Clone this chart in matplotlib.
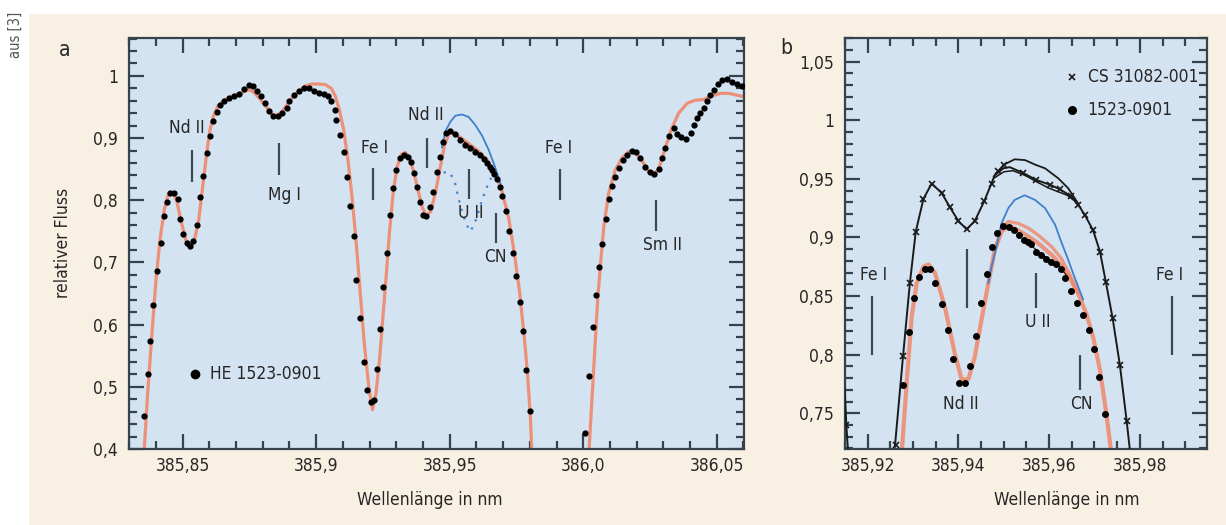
import numpy as np
import matplotlib
matplotlib.use("Agg")
import matplotlib.pyplot as plt
from matplotlib.ticker import MultipleLocator, FixedLocator, FixedFormatter
from matplotlib.patches import Rectangle

plt.rcParams['font.family'] = ['DejaVu Sans']
plt.rcParams['font.stretch'] = 'condensed'

# ---------- Panel a: HE 1523-0901 ----------
a_dots_x = [385.8354, 385.8369, 385.8379, 385.8390, 385.8404, 385.8417, 385.8429, 385.8442, 385.8452,
            385.8466, 385.8482, 385.8491, 385.8500, 385.8515, 385.8528, 385.8540, 385.8552, 385.8565,
            385.8577, 385.8591, 385.8602, 385.8615, 385.8627, 385.8640, 385.8656, 385.8675, 385.8693,
            385.8712, 385.8731, 385.8747, 385.8762, 385.8777, 385.8793, 385.8809, 385.8824, 385.8839,
            385.8856, 385.8872, 385.8889, 385.8897, 385.8916, 385.8934, 385.8953, 385.8972, 385.8990,
            385.9009, 385.9028, 385.9044, 385.9057, 385.9069, 385.9075, 385.9090, 385.9103, 385.9115,
            385.9128, 385.9140, 385.9150, 385.9165, 385.9178, 385.9190, 385.9206, 385.9215, 385.9228,
            385.9240, 385.9250, 385.9264, 385.9278, 385.9288, 385.9300, 385.9315, 385.9330, 385.9344,
            385.9356, 385.9366, 385.9378, 385.9388, 385.9399, 385.9411, 385.9425, 385.9437, 385.9452,
            385.9462, 385.9475, 385.9487, 385.9502, 385.9521, 385.9540, 385.9558, 385.9577, 385.9596,
            385.9615, 385.9627, 385.9640, 385.9650, 385.9658, 385.9667, 385.9677, 385.9687, 385.9696,
            385.9711, 385.9721, 385.9737, 385.9750, 385.9762, 385.9774, 385.9787, 385.9800,
            386.0008, 386.0023, 386.0036, 386.0048, 386.0060, 386.0070, 386.0085, 386.0098, 386.0108,
            386.0120, 386.0133, 386.0148, 386.0164, 386.0183, 386.0199, 386.0214, 386.0230, 386.0249,
            386.0266, 386.0283, 386.0295, 386.0307, 386.0322, 386.0339, 386.0351, 386.0367, 386.0385,
            386.0405, 386.0414, 386.0426, 386.0439, 386.0451, 386.0464, 386.0476, 386.0489, 386.0505,
            386.0520, 386.0538, 386.0557, 386.0576, 386.0595]
a_dots_y = [0.453, 0.521, 0.574, 0.632, 0.687, 0.732, 0.775, 0.798, 0.812,
            0.812, 0.802, 0.770, 0.746, 0.732, 0.726, 0.734, 0.760, 0.805,
            0.839, 0.876, 0.904, 0.927, 0.942, 0.953, 0.959, 0.964, 0.968,
            0.971, 0.979, 0.985, 0.983, 0.976, 0.968, 0.956, 0.944, 0.936,
            0.936, 0.941, 0.948, 0.959, 0.969, 0.975, 0.980, 0.980, 0.976,
            0.973, 0.971, 0.968, 0.960, 0.946, 0.929, 0.905, 0.877, 0.837,
            0.791, 0.743, 0.672, 0.610, 0.540, 0.495, 0.476, 0.479, 0.528,
            0.593, 0.660, 0.716, 0.776, 0.819, 0.849, 0.868, 0.873, 0.869,
            0.862, 0.844, 0.822, 0.798, 0.777, 0.775, 0.790, 0.814, 0.846,
            0.870, 0.894, 0.908, 0.912, 0.907, 0.897, 0.889, 0.884, 0.878,
            0.873, 0.866, 0.860, 0.854, 0.849, 0.842, 0.834, 0.822, 0.807,
            0.782, 0.750, 0.716, 0.678, 0.637, 0.589, 0.527, 0.461,
            0.426, 0.517, 0.597, 0.648, 0.693, 0.730, 0.770, 0.802, 0.823,
            0.838, 0.852, 0.864, 0.873, 0.880, 0.877, 0.868, 0.854, 0.845,
            0.842, 0.850, 0.868, 0.884, 0.904, 0.916, 0.907, 0.901, 0.898,
            0.908, 0.921, 0.932, 0.940, 0.948, 0.959, 0.969, 0.978, 0.987,
            0.993, 0.995, 0.991, 0.987, 0.984]

a_model_x = [385.8356, 385.8369, 385.8385, 385.8400, 385.8415, 385.8431, 385.8447, 385.8462, 385.8477,
             385.8493, 385.8512, 385.8527, 385.8543, 385.8560, 385.8575, 385.8590, 385.8602, 385.8615,
             385.8631, 385.8656, 385.8687, 385.8718, 385.8743, 385.8764, 385.8787, 385.8812, 385.8834,
             385.8849, 385.8868, 385.8887, 385.8909, 385.8934, 385.8959, 385.8984, 385.9009, 385.9034,
             385.9057, 385.9072, 385.9087, 385.9103, 385.9119, 385.9134, 385.9149, 385.9165, 385.9180,
             385.9197, 385.9211, 385.9224, 385.9237, 385.9249, 385.9262, 385.9274, 385.9288, 385.9303,
             385.9319, 385.9334, 385.9349, 385.9365, 385.9381, 385.9396, 385.9411, 385.9429, 385.9446,
             385.9465, 385.9481, 385.9502, 385.9527, 385.9565, 385.9602, 385.9640, 385.9671, 385.9696,
             385.9721, 385.9742, 385.9762, 385.9779, 385.9792, 385.9802, 385.9807,
             386.0022, 386.0030, 386.0038, 386.0046, 386.0054, 386.0064, 386.0077, 386.0095, 386.0120,
             386.0145, 386.0170, 386.0193, 386.0214, 386.0245, 386.0264, 386.0283, 386.0307, 386.0332,
             386.0357, 386.0389, 386.0420, 386.0451, 386.0482, 386.0514, 386.0545, 386.0576, 386.0607]
a_model_y = [0.399, 0.490, 0.586, 0.672, 0.736, 0.785, 0.811, 0.812, 0.801,
             0.768, 0.736, 0.723, 0.734, 0.768, 0.822, 0.876, 0.913, 0.935,
             0.951, 0.961, 0.968, 0.972, 0.978, 0.975, 0.964, 0.951, 0.939,
             0.936, 0.941, 0.951, 0.964, 0.975, 0.984, 0.987, 0.987, 0.986,
             0.980, 0.967, 0.945, 0.913, 0.865, 0.806, 0.736, 0.651, 0.570,
             0.500, 0.463, 0.490, 0.543, 0.608, 0.677, 0.747, 0.811, 0.854,
             0.874, 0.877, 0.869, 0.846, 0.817, 0.790, 0.775, 0.782, 0.811,
             0.854, 0.889, 0.913, 0.905, 0.893, 0.881, 0.865, 0.843, 0.814,
             0.771, 0.715, 0.651, 0.581, 0.517, 0.452, 0.400,
             0.400, 0.460, 0.520, 0.580, 0.640, 0.693, 0.758, 0.811, 0.849,
             0.868, 0.878, 0.878, 0.868, 0.846, 0.841, 0.851, 0.884, 0.916,
             0.940, 0.956, 0.961, 0.962, 0.968, 0.972, 0.972, 0.969, 0.966]

# synthetic spectrum without uranium (blue) and U II line alone (dotted)
a_blue_x = [385.9471, 385.9484, 385.9502, 385.9521, 385.9546, 385.9571, 385.9596, 385.9621, 385.9646,
            385.9671, 385.9690]
a_blue_y = [0.885, 0.911, 0.926, 0.936, 0.938, 0.934, 0.921, 0.904, 0.881, 0.852, 0.827]
a_uline_x = [385.9477, 385.9502, 385.9521, 385.9533, 385.9546, 385.9562, 385.9577, 385.9593, 385.9608,
             385.9623, 385.9640, 385.9655]
a_uline_y = [0.845, 0.844, 0.826, 0.803, 0.782, 0.762, 0.750, 0.762, 0.782, 0.803, 0.822, 0.836]
a_fit_x = [385.9495, 385.9515, 385.9540, 385.9565, 385.9590, 385.9615, 385.9640]
a_fit_y = [0.909, 0.907, 0.899, 0.890, 0.883, 0.875, 0.862]

a_line_names = ['Nd II', 'Mg I', 'Fe I', 'Nd II', 'U II', 'CN', 'Fe I', 'Sm II']
a_line_x = [385.8536, 385.8859, 385.9211, 385.9415, 385.9571, 385.9673, 385.9912, 386.0274]
a_line_ylo = [0.830, 0.841, 0.800, 0.852, 0.802, 0.731, 0.800, 0.750]
a_line_yhi = [0.881, 0.892, 0.852, 0.900, 0.850, 0.779, 0.850, 0.800]
a_label_x = [385.8516, 385.8882, 385.9218, 385.9409, 385.9577, 385.9670, 385.9908, 386.0295]
a_label_y = [0.917, 0.809, 0.884, 0.937, 0.779, 0.709, 0.884, 0.728]

a_xticks = [385.85, 385.90, 385.95, 386.00, 386.05]
a_xticklabels = ['385,85', '385,9', '385,95', '386,0', '386,05']
a_yticks = [0.4, 0.5, 0.6, 0.7, 0.8, 0.9, 1.0]
a_yticklabels = ['0,4', '0,5', '0,6', '0,7', '0,8', '0,9', '1']

# ---------- Panel b: CS 31082-001 vs 1523-0901 ----------
b_dots_x = [385.9277, 385.9290, 385.9302, 385.9313, 385.9326, 385.9337, 385.9348, 385.9363, 385.9376,
            385.9389, 385.9401, 385.9414, 385.9425, 385.9438, 385.9450, 385.9463, 385.9475, 385.9486,
            385.9499, 385.9511, 385.9523, 385.9533, 385.9544, 385.9554, 385.9561, 385.9572, 385.9583,
            385.9594, 385.9605, 385.9616, 385.9626, 385.9636, 385.9649, 385.9662, 385.9675, 385.9688,
            385.9699, 385.9710, 385.9723]
b_dots_y = [0.774, 0.819, 0.848, 0.866, 0.873, 0.873, 0.861, 0.843, 0.821,
            0.796, 0.776, 0.776, 0.790, 0.816, 0.844, 0.869, 0.892, 0.904,
            0.910, 0.909, 0.906, 0.902, 0.898, 0.896, 0.894, 0.888, 0.885,
            0.882, 0.879, 0.877, 0.873, 0.865, 0.854, 0.844, 0.834, 0.821,
            0.805, 0.781, 0.749]

b_model_x = [385.9270, 385.9276, 385.9286, 385.9297, 385.9308, 385.9323, 385.9334, 385.9348, 385.9370,
             385.9392, 385.9407, 385.9422, 385.9436, 385.9451, 385.9466, 385.9480, 385.9495, 385.9510,
             385.9532, 385.9554, 385.9576, 385.9606, 385.9627, 385.9646, 385.9664, 385.9682, 385.9697,
             385.9712, 385.9726, 385.9736]
b_model_y = [0.700, 0.7215, 0.776, 0.8325, 0.861, 0.875, 0.877, 0.870, 0.841,
             0.801, 0.779, 0.779, 0.798, 0.830, 0.861, 0.889, 0.905, 0.910,
             0.906, 0.901, 0.895, 0.885, 0.876, 0.865, 0.852, 0.835, 0.815,
             0.787, 0.750, 0.719]
b_model_hi_x = [385.9480, 385.9495, 385.9510, 385.9532, 385.9554, 385.9576, 385.9606, 385.9627, 385.9646,
                385.9664]
b_model_hi_y = [0.889, 0.908, 0.9135, 0.912, 0.908, 0.902, 0.892, 0.882, 0.868, 0.853]
b_fit_x = [385.9540, 385.9560, 385.9580, 385.9600, 385.9620, 385.9640]
b_fit_y = [0.897, 0.893, 0.887, 0.881, 0.876, 0.867]

b_blue_x = [385.9466, 385.9473, 385.9484, 385.9495, 385.9510, 385.9524, 385.9546, 385.9569, 385.9591,
            385.9613, 385.9627, 385.9642, 385.9657, 385.9675]
b_blue_y = [0.861, 0.875, 0.892, 0.912, 0.925, 0.932, 0.936, 0.932, 0.925,
            0.911, 0.896, 0.881, 0.865, 0.847]

b_cs_x = [385.9153, 385.9262, 385.9278, 385.9293, 385.9306, 385.9323, 385.9341, 385.9363, 385.9381,
          385.9400, 385.9418, 385.9436, 385.9457, 385.9473, 385.9488, 385.9501, 385.9543, 385.9572,
          385.9602, 385.9624, 385.9649, 385.9664, 385.9679, 385.9697, 385.9712, 385.9725, 385.9740,
          385.9756, 385.9771]
b_cs_y = [0.740, 0.723, 0.799, 0.861, 0.905, 0.933, 0.946, 0.938, 0.926,
          0.914, 0.907, 0.914, 0.931, 0.946, 0.957, 0.962, 0.955, 0.949,
          0.945, 0.941, 0.935, 0.928, 0.919, 0.906, 0.888, 0.862, 0.831,
          0.791, 0.743]

b_csmodel_x = [385.9260, 385.9278, 385.9293, 385.9306, 385.9323, 385.9341, 385.9363, 385.9381, 385.9400,
               385.9418, 385.9436, 385.9457, 385.9480, 385.9499, 385.9513, 385.9543, 385.9572, 385.9602,
               385.9624, 385.9649, 385.9664, 385.9679, 385.9697, 385.9712, 385.9725, 385.9740, 385.9756,
               385.9771, 385.9778]
b_csmodel_y = [0.7215, 0.799, 0.861, 0.905, 0.933, 0.946, 0.938, 0.926, 0.914,
               0.907, 0.914, 0.931, 0.953, 0.959, 0.960, 0.955, 0.949, 0.945,
               0.941, 0.935, 0.928, 0.919, 0.906, 0.888, 0.862, 0.831, 0.791,
               0.743, 0.7187]
b_csedge_x = [385.9146, 385.9150, 385.9153, 385.9157]
b_csedge_y = [0.790, 0.765, 0.740, 0.715]
b_cshi_x = [385.9478, 385.9500, 385.9524, 385.9547, 385.9570, 385.9591, 385.9620, 385.9642, 385.9664]
b_cshi_y = [0.952, 0.962, 0.9667, 0.966, 0.962, 0.959, 0.9505, 0.942, 0.929]
b_cslo_x = [385.9480, 385.9500, 385.9520, 385.9547, 385.9570, 385.9600, 385.9620, 385.9640, 385.9660]
b_cslo_y = [0.951, 0.956, 0.957, 0.953, 0.948, 0.942, 0.939, 0.936, 0.930]

b_line_names = ['Fe I', 'Nd II', 'U II', 'CN', 'Fe I']
b_line_x = [385.9210, 385.9419, 385.9571, 385.9669, 385.9870]
b_line_ylo = [0.800, 0.840, 0.840, 0.770, 0.800]
b_line_yhi = [0.850, 0.890, 0.870, 0.800, 0.850]
b_label_x = [385.9212, 385.9405, 385.9576, 385.9671, 385.9866]
b_label_y = [0.868, 0.758, 0.828, 0.758, 0.868]

b_xticks = [385.92, 385.94, 385.96, 385.98]
b_xticklabels = ['385,92', '385,94', '385,96', '385,98']
b_yticks = [0.75, 0.80, 0.85, 0.90, 0.95, 1.00, 1.05]
b_yticklabels = ['0,75', '0,8', '0,85', '0,9', '0,95', '1', '1,05']

# ---------- styling ----------
cream = '#f9f0e4'
panel = '#d3e3f1'
orange = '#f0876a'
blue = '#3f80cc'
ink = '#262626'
tickc = '#34434c'
fs = 12.5

fig = plt.figure(figsize=(12.26, 5.25), dpi=100, facecolor='white')
fig.patches.append(Rectangle((29 / 1226, 0), 1, (525 - 14) / 525, transform=fig.transFigure,
                             facecolor=cream, edgecolor='none', zorder=-10))

ax_a = fig.add_axes([129 / 1226, 76 / 525, 615 / 1226, 411 / 525])
ax_b = fig.add_axes([845 / 1226, 76 / 525, 362 / 1226, 411 / 525])


def style_axes(ax, minor_x, major_y_vals, ylabels, minor_y, xticks, xlabels):
    ax.set_facecolor(panel)
    for s in ax.spines.values():
        s.set_color(tickc)
        s.set_linewidth(1.6)
    ax.xaxis.set_major_locator(FixedLocator(xticks))
    ax.xaxis.set_major_formatter(FixedFormatter(xlabels))
    ax.xaxis.set_minor_locator(MultipleLocator(minor_x))
    ax.yaxis.set_major_locator(FixedLocator(major_y_vals))
    ax.yaxis.set_major_formatter(FixedFormatter(ylabels))
    ax.yaxis.set_minor_locator(MultipleLocator(minor_y))
    ax.tick_params(which='both', direction='in', top=True, right=True, color=tickc,
                   labelsize=fs, labelcolor=ink)
    ax.tick_params(which='major', length=11, width=1.6)
    ax.tick_params(which='minor', length=6, width=1.6)
    ax.tick_params(axis='y', pad=8)
    ax.tick_params(axis='x', pad=6)


# panel a
ax = ax_a
ax.set_xlim(385.8299, 386.0602)
ax.set_ylim(0.4, 1.061)
style_axes(ax, 0.01, a_yticks, a_yticklabels, 0.02, a_xticks, a_xticklabels)
ax.plot(a_model_x[:79], a_model_y[:79], color=orange, lw=2.3, alpha=0.9, zorder=2)
ax.plot(a_model_x[79:], a_model_y[79:], color=orange, lw=2.3, alpha=0.9, zorder=2)
ax.plot(a_blue_x, a_blue_y, color=blue, lw=1.3, zorder=3)
ax.plot(a_uline_x, a_uline_y, color=blue, lw=1.6, ls=(0, (1, 3)), zorder=3)
ax.plot(a_fit_x, a_fit_y, color='#5a2a1a', lw=1.0, zorder=3)
ax.plot(a_dots_x, a_dots_y, 'o', color='black', ms=4.5, mew=0, zorder=4)
ax.vlines(a_line_x, a_line_ylo, a_line_yhi, color='#3a4a52', lw=1.6, zorder=3)
for name, lx, ly in zip(a_line_names, a_label_x, a_label_y):
    ax.text(lx, ly, name, ha='center', va='center', fontsize=fs, color=ink)
ax.plot([385.8547], [0.520], 'o', color='black', ms=7, mew=0)
ax.text(385.8603, 0.520, 'HE 1523-0901', ha='left', va='center', fontsize=fs, color=ink)

# panel b
ax = ax_b
ax.set_xlim(385.9150, 385.9948)
ax.set_ylim(0.7195, 1.0702)
style_axes(ax, 0.005, b_yticks, b_yticklabels, 0.01, b_xticks, b_xticklabels)
ax.plot(b_model_x, b_model_y, color=orange, lw=3.0, alpha=0.85, zorder=2)
ax.plot(b_model_hi_x, b_model_hi_y, color=orange, lw=2.4, alpha=0.8, zorder=2)
ax.plot(b_blue_x, b_blue_y, color=blue, lw=1.3, zorder=3)
ax.plot(b_fit_x, b_fit_y, color='#3a1a10', lw=0.9, zorder=3)
ax.plot(b_csmodel_x, b_csmodel_y, color='#1a1a1a', lw=1.4, zorder=3)
ax.plot(b_cshi_x, b_cshi_y, color='#1a1a1a', lw=1.3, zorder=3)
ax.plot(b_cslo_x, b_cslo_y, color='#1a1a1a', lw=1.1, zorder=3)
ax.plot(b_csedge_x, b_csedge_y, color='#1a1a1a', lw=1.4, zorder=3)
ax.plot(b_cs_x, b_cs_y, 'x', color='#1a1a1a', ms=5, mew=1.2, zorder=4)
ax.plot(b_dots_x, b_dots_y, 'o', color='black', ms=5, mew=0, zorder=4)
ax.vlines(b_line_x, b_line_ylo, b_line_yhi, color='#3a4a52', lw=1.6, zorder=3)
for name, lx, ly in zip(b_line_names, b_label_x, b_label_y):
    ax.text(lx, ly, name, ha='center', va='center', fontsize=fs, color=ink)
ax.plot([385.9651], [1.0367], 'x', color='#1a1a1a', ms=5, mew=1.2)
ax.text(385.9685, 1.0367, 'CS 31082-001', ha='left', va='center', fontsize=fs, color=ink)
ax.plot([385.9651], [1.0088], 'o', color='black', ms=6.5, mew=0)
ax.text(385.9685, 1.0088, '1523-0901', ha='left', va='center', fontsize=fs, color=ink)

# figure texts
fig.text(63 / 1226, (525 - 243) / 525, 'relativer Fluss', rotation=90, ha='center', va='center',
         fontsize=fs, color=ink)
fig.text(430 / 1226, (525 - 500) / 525, 'Wellenlänge in nm', ha='center', va='center',
         fontsize=fs, color=ink)
fig.text(1067 / 1226, (525 - 500) / 525, 'Wellenlänge in nm', ha='center', va='center',
         fontsize=fs, color=ink)
fig.text(65 / 1226, (525 - 50) / 525, 'a', ha='center', va='center', fontsize=15, color=ink)
fig.text(786 / 1226, (525 - 48) / 525, 'b', ha='center', va='center', fontsize=15, color=ink)
fig.text(15 / 1226, (525 - 35) / 525, 'aus [3]', rotation=90, ha='center', va='center',
         fontsize=10.5, color='#555555')

fig.savefig('out.png', dpi=100, facecolor='white')
